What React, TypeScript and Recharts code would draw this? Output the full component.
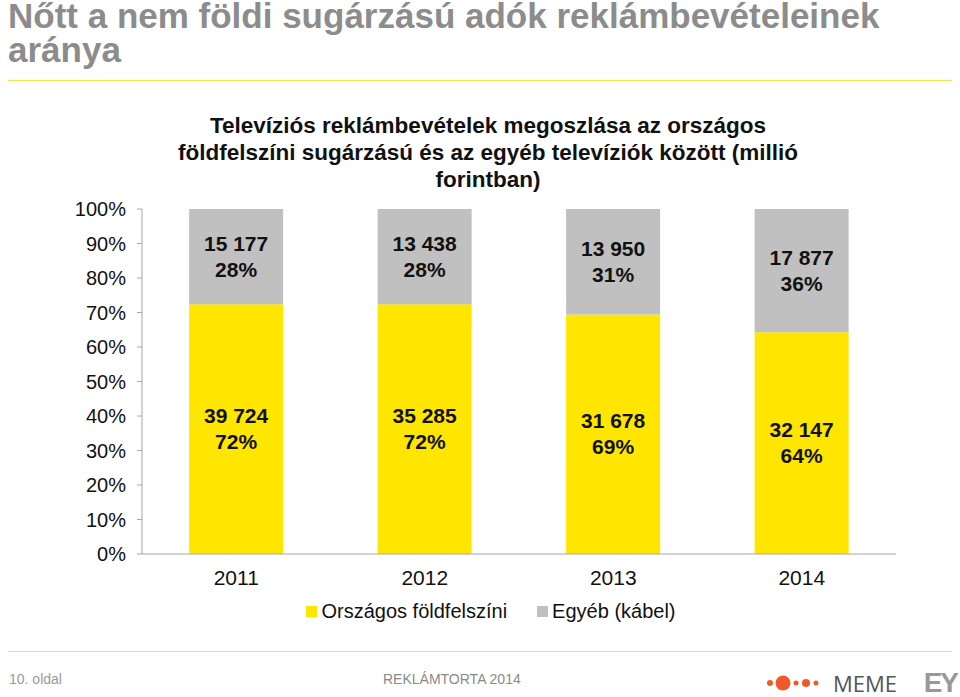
import React from "react";
import { BarChart, Bar, XAxis, YAxis, LabelList } from "recharts";

const years = ["2011", "2012", "2013", "2014"];
const foldfelszini = [39724, 35285, 31678, 32147];
const kabel = [15177, 13438, 13950, 17877];
const yTicks = [0, 0.1, 0.2, 0.3, 0.4, 0.5, 0.6, 0.7, 0.8, 0.9, 1];

const YELLOW = "#ffe600";
const GREY = "#c0c0c0";
const AXIS = "#a6a6a6";
const FONT = "'Liberation Sans', Arial, sans-serif";

const data = years.map((year, i) => ({
  year,
  foldfelszini: foldfelszini[i],
  kabel: kabel[i],
}));

function fmtNumber(n: number) {
  return String(n).replace(/\B(?=(\d{3})+(?!\d))/g, " ");
}

// két soros címke: érték + arány
function makeLabel(values: number[], other: number[]) {
  return (props: any) => {
    const { x, y, width, height, index } = props;
    const v = values[index];
    const pct = Math.round((v / (v + other[index])) * 100);
    const cx = Number(x) + Number(width) / 2;
    const cy = Number(y) + Number(height) / 2;
    return (
      <text
        x={cx}
        y={cy}
        textAnchor="middle"
        fill="#111"
        fontSize={21}
        fontWeight="bold"
        fontFamily={FONT}
      >
        <tspan x={cx} dy={-6}>
          {fmtNumber(v)}
        </tspan>
        <tspan x={cx} dy={26}>
          {pct}%
        </tspan>
      </text>
    );
  };
}

const legendItems = [
  { name: "Országos földfelszíni", color: YELLOW },
  { name: "Egyéb (kábel)", color: GREY },
];

const titleLine = {
  position: "absolute" as const,
  left: 8,
  fontSize: 35,
  lineHeight: "40px",
  fontWeight: "bold" as const,
  color: "#8c8c8c",
  whiteSpace: "nowrap" as const,
};

export default function App() {
  return (
    <div
      style={{
        position: "fixed",
        left: 0,
        top: 0,
        width: 960,
        height: 697,
        background: "#fff",
        fontFamily: FONT,
        overflow: "hidden",
      }}
    >
      <div style={{ ...titleLine, top: -4 }}>
        Nőtt a nem földi sugárzású adók reklámbevételeinek
      </div>
      <div style={{ ...titleLine, top: 30 }}>aránya</div>
      <div
        style={{
          position: "absolute",
          left: 8,
          top: 80,
          width: 944,
          height: 1,
          background: "#f6e24e",
        }}
      />

      <div style={{ position: "absolute", left: 0, top: 0 }}>
        <BarChart
          width={960}
          height={640}
          data={data}
          stackOffset="expand"
          barCategoryGap="25%"
          margin={{ top: 209, right: 64, bottom: 56, left: 82 }}
        >
          <XAxis
            dataKey="year"
            height={30}
            axisLine={{ stroke: AXIS }}
            tickLine={false}
            tickSize={0}
            tickMargin={16}
            tick={{ fill: "#111", fontSize: 21, fontFamily: FONT }}
          />
          <YAxis
            width={60}
            domain={[0, 1]}
            ticks={yTicks}
            interval={0}
            tickFormatter={(v: number) => `${Math.round(v * 100)}%`}
            axisLine={{ stroke: AXIS }}
            tickLine={{ stroke: AXIS }}
            tickSize={5}
            tickMargin={11}
            tick={{ fill: "#111", fontSize: 20, fontFamily: FONT }}
          />
          <Bar
            dataKey="foldfelszini"
            name="Országos földfelszíni"
            stackId="a"
            fill={YELLOW}
            isAnimationActive={false}
          >
            <LabelList content={makeLabel(foldfelszini, kabel)} />
          </Bar>
          <Bar
            dataKey="kabel"
            name="Egyéb (kábel)"
            stackId="a"
            fill={GREY}
            isAnimationActive={false}
          >
            <LabelList content={makeLabel(kabel, foldfelszini)} />
          </Bar>
        </BarChart>
      </div>

      <div
        style={{
          position: "absolute",
          left: 0,
          width: 976,
          top: 112,
          textAlign: "center",
          fontSize: 22.5,
          lineHeight: "27px",
          fontWeight: "bold",
          color: "#111",
        }}
      >
        Televíziós reklámbevételek megoszlása az országos
        <br />
        földfelszíni sugárzású és az egyéb televíziók között (millió
        <br />
        forintban)
      </div>

      <div
        style={{
          position: "absolute",
          left: 0,
          top: 599,
          width: 982,
          display: "flex",
          justifyContent: "center",
          gap: 30,
          fontSize: 20,
          lineHeight: "24px",
          color: "#111",
        }}
      >
        {legendItems.map((it) => (
          <div key={it.name} style={{ display: "flex", alignItems: "center" }}>
            <span
              style={{
                width: 11,
                height: 11,
                background: it.color,
                marginRight: 4,
                display: "inline-block",
              }}
            />
            {it.name}
          </div>
        ))}
      </div>

      <div
        style={{
          position: "absolute",
          left: 8,
          top: 651,
          width: 944,
          height: 1,
          background: "#d9d9d9",
        }}
      />
      <div
        style={{
          position: "absolute",
          left: 9,
          top: 671,
          fontSize: 14,
          color: "#9a9a9a",
        }}
      >
        10. oldal
      </div>
      <div
        style={{
          position: "absolute",
          left: 383,
          top: 671,
          fontSize: 14,
          color: "#8a8a8a",
        }}
      >
        REKLÁMTORTA 2014
      </div>
      <svg
        style={{ position: "absolute", left: 760, top: 671 }}
        width={70}
        height={24}
      >
        <circle cx={10} cy={12} r={3} fill="#f05a28" />
        <circle cx={23} cy={12} r={7.5} fill="#f05a28" />
        <circle cx={36} cy={12} r={2.5} fill="#f05a28" />
        <circle cx={46} cy={12} r={4} fill="#f05a28" />
        <circle cx={56} cy={12} r={2.5} fill="#f05a28" />
      </svg>
      <div
        style={{
          position: "absolute",
          left: 833,
          top: 672,
          fontSize: 22,
          lineHeight: "22px",
          color: "#555",
          fontFamily: "'Open Sans', sans-serif",
        }}
      >
        MEME
      </div>
      <div
        style={{
          position: "absolute",
          right: 3,
          top: 669,
          fontSize: 28,
          lineHeight: "28px",
          fontWeight: "bold",
          color: "#999",
          letterSpacing: -2,
        }}
      >
        EY
      </div>
    </div>
  );
}
